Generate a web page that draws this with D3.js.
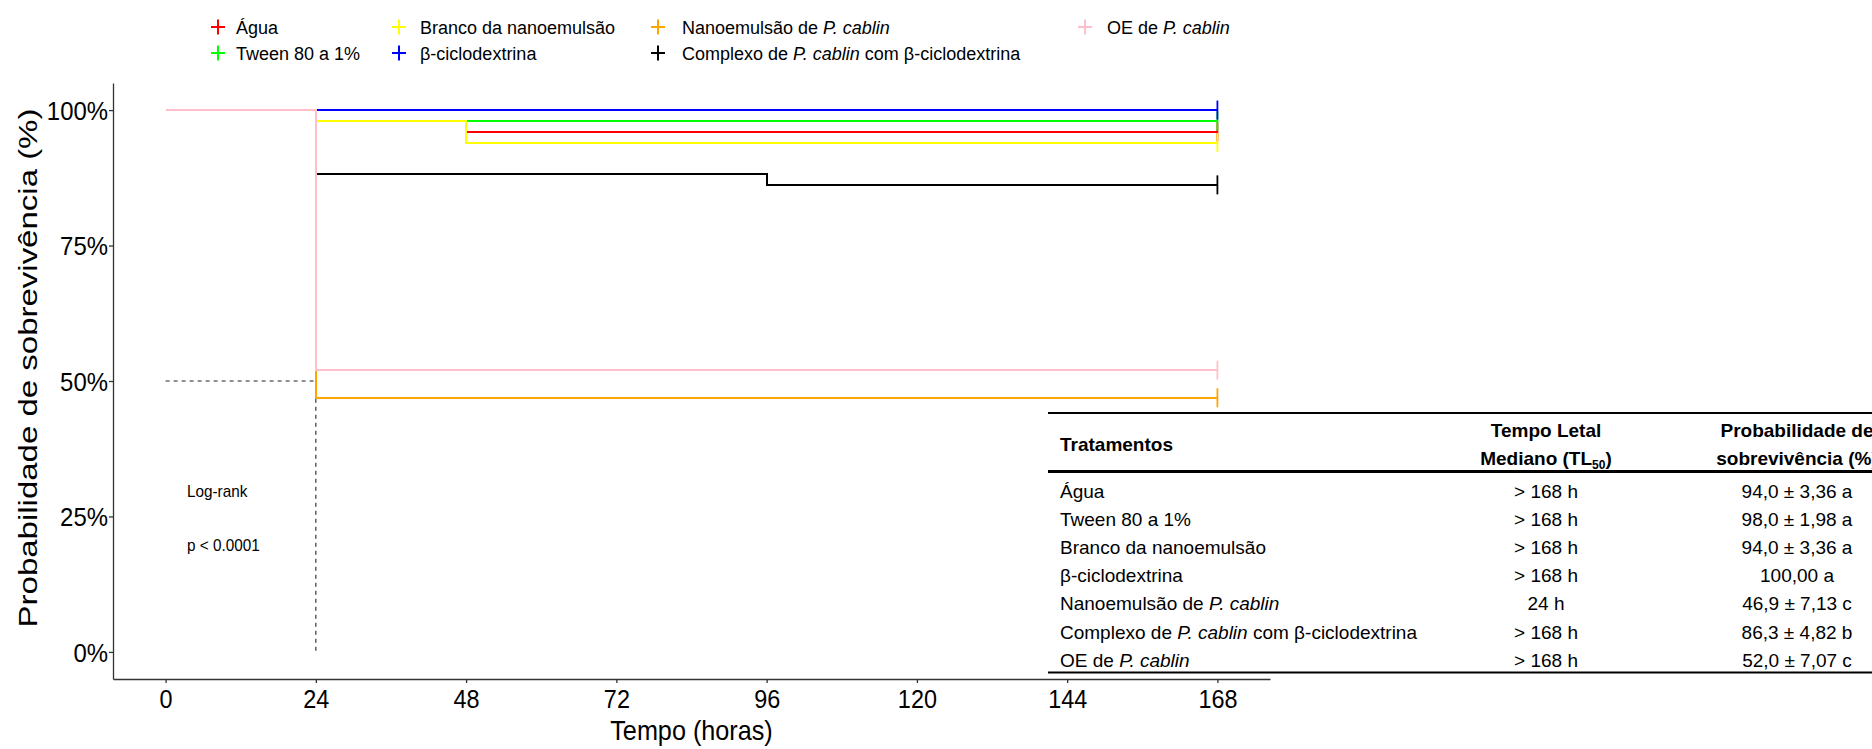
<!DOCTYPE html>
<html><head><meta charset="utf-8">
<script src="https://cdn.jsdelivr.net/npm/d3@7"></script>
<style>
body{margin:0;background:#fff}
svg{display:block}
text{font-family:"Liberation Sans",Arial,sans-serif;fill:#000}
</style>
</head><body>
<svg id="c" width="1872" height="749"></svg>
<script>
// ---------- data ----------
const treatments = ["Água","Tween 80 a 1%","Branco da nanoemulsão","β-ciclodextrina","Nanoemulsão de P. cablin","Complexo de P. cablin com β-ciclodextrina","OE de P. cablin"];
const colors = ["#FF0000","#00FF00","#FFFF00","#0000FF","#FFA500","#000000","#FFC0CB"];
const stepTimes = [[0,24,48,168],[0,24,168],[0,24,48,168],[0,168],[0,24,168],[0,24,96,168],[0,24,168]];
const stepSurv  = [[1,0.98,0.96,0.96],[1,0.98,0.98],[1,0.98,0.94,0.94],[1,1],[1,0.469,0.469],[1,0.882,0.862,0.862],[1,0.52,0.52]];
const xTicks = [0,24,48,72,96,120,144,168];
const yTicks = [0,0.25,0.5,0.75,1];
const medianTime = 24;
const medianLevel = 0.5;
const tl50 = ["> 168 h","> 168 h","> 168 h","> 168 h","24 h","> 168 h","> 168 h"];
const survText = ["94,0 ± 3,36 a","98,0 ± 1,98 a","94,0 ± 3,36 a","100,00 a","46,9 ± 7,13 c","86,3 ± 4,82 b","52,0 ± 7,07 c"];
const logRankLines = ["Log-rank","p < 0.0001"];

// ---------- layout ----------
const svg = d3.select("#c");
const x = d3.scaleLinear().domain([-8.4,176.4]).range([113,1270]);
const y = d3.scaleLinear().domain([-0.05,1.05]).range([679,83]);

function condense(sel, f){
  sel.each(function(){
    const l = this.getComputedTextLength();
    d3.select(this).attr("textLength", l*f).attr("lengthAdjust","spacingAndGlyphs");
  });
}
function richName(textSel, name){
  const parts = name.split("P. cablin");
  parts.forEach((p,i)=>{
    if(p) textSel.append("tspan").text(p);
    if(i<parts.length-1) textSel.append("tspan").attr("font-style","italic").text("P. cablin");
  });
}

// axes
const xAxis = svg.append("g").attr("transform","translate(0,679)")
  .call(d3.axisBottom(x).tickValues(xTicks).tickSize(4).tickSizeOuter(0).tickFormat(d3.format("d")));
xAxis.select(".domain").attr("stroke","#333").attr("stroke-width",1.3);
xAxis.selectAll(".tick line").attr("stroke","#333").attr("stroke-width",1.3);
xAxis.selectAll(".tick text").attr("dy",null).attr("y",29).attr("font-size",26).attr("font-family",'"Liberation Sans",Arial,sans-serif').attr("fill","#000");
condense(xAxis.selectAll(".tick text"),0.9);

const yAxis = svg.append("g").attr("transform","translate(113,0)")
  .call(d3.axisLeft(y).tickValues(yTicks).tickSize(4).tickSizeOuter(0).tickFormat(d3.format(".0%")));
yAxis.select(".domain").attr("stroke","#333").attr("stroke-width",1.3);
yAxis.selectAll(".tick line").attr("stroke","#333").attr("stroke-width",1.3);
yAxis.selectAll(".tick text").attr("dy",null).attr("x",-5).attr("y",9.3).attr("font-size",26).attr("font-family",'"Liberation Sans",Arial,sans-serif').attr("fill","#000");
condense(yAxis.selectAll(".tick text"),0.92);

// axis titles
const xt = svg.append("text").attr("x",(x.range()[0]+x.range()[1])/2).attr("y",740)
  .attr("text-anchor","middle").attr("font-size",28).text("Tempo (horas)");
condense(xt,0.9);
svg.append("text").attr("transform","translate(36.7,368) rotate(-90) scale(1,0.78)")
  .attr("text-anchor","middle").attr("font-size",33).text("Probabilidade de sobrevivência (%)");

// median dashed lines
svg.append("path")
  .attr("d",`M${x(0)},${y(medianLevel)}H${x(medianTime)}V${y(0)}`)
  .attr("fill","none").attr("stroke","#222").attr("stroke-width",1.1).attr("stroke-dasharray","4,4");

// curves
const line = d3.line().curve(d3.curveStepAfter).x(d=>x(d[0])).y(d=>y(d[1]));
treatments.forEach((t,i)=>{
  const pts = stepTimes[i].map((tt,j)=>[tt,stepSurv[i][j]]);
  svg.append("path").attr("d",line(pts)).attr("fill","none")
    .attr("stroke",colors[i]).attr("stroke-width",2.2).attr("shape-rendering","crispEdges");
});
treatments.forEach((t,i)=>{
  const n = stepTimes[i].length-1;
  const cx = x(stepTimes[i][n]), cy = y(stepSurv[i][n]);
  svg.append("line").attr("x1",cx).attr("x2",cx).attr("y1",cy-9.5).attr("y2",cy+9.5)
    .attr("stroke",colors[i]).attr("stroke-width",1.8);
});

// log-rank annotation
const lr = svg.append("g");
logRankLines.forEach((s,i)=>{
  const tx = lr.append("text").attr("x",187).attr("y",[497,551][i]).attr("font-size",17).text(s);
  condense(tx,0.9);
});

// legend
const legMarkX = [218,399,658,1085];
const legTextX = [236,420,682,1107];
const legRowY = [34,60];
treatments.forEach((t,i)=>{
  const c = Math.floor(i/2), r = i%2;
  const mx = legMarkX[c], my = legRowY[r]-7;
  svg.append("path").attr("d",`M${mx-7},${my}H${mx+7}M${mx},${my-7.5}V${my+7.5}`)
    .attr("stroke",colors[i]).attr("stroke-width",2).attr("fill","none");
  const tx = svg.append("text").attr("x",legTextX[c]).attr("y",legRowY[r]).attr("font-size",18);
  richName(tx,t);
});

// table
const tb = svg.append("g");
const tL = 1048, tR = 1872, c1 = 1060, c2 = 1546, c3 = 1797;
tb.append("line").attr("x1",tL).attr("x2",tR).attr("y1",413).attr("y2",413).attr("stroke","#000").attr("stroke-width",2);
tb.append("line").attr("x1",tL).attr("x2",tR).attr("y1",471.5).attr("y2",471.5).attr("stroke","#000").attr("stroke-width",3);
tb.append("line").attr("x1",tL).attr("x2",tR).attr("y1",672.5).attr("y2",672.5).attr("stroke","#000").attr("stroke-width",2);
tb.append("text").attr("x",c1).attr("y",451).attr("font-size",19).attr("font-weight","bold").text("Tratamentos");
tb.append("text").attr("x",c2).attr("y",437).attr("text-anchor","middle").attr("font-size",19).attr("font-weight","bold").text("Tempo Letal");
const med = tb.append("text").attr("x",c2).attr("y",465).attr("text-anchor","middle").attr("font-size",19).attr("font-weight","bold");
med.append("tspan").text("Mediano (TL");
med.append("tspan").attr("font-size",12).attr("dy",4).text("50");
med.append("tspan").attr("dy",-4).text(")");
tb.append("text").attr("x",c3).attr("y",437).attr("text-anchor","middle").attr("font-size",19).attr("font-weight","bold").text("Probabilidade de");
tb.append("text").attr("x",c3).attr("y",465).attr("text-anchor","middle").attr("font-size",19).attr("font-weight","bold").text("sobrevivência (%)");
treatments.forEach((t,i)=>{
  const by = 498 + i*28.1;
  const tx = tb.append("text").attr("x",c1).attr("y",by).attr("font-size",19);
  richName(tx,t);
  tb.append("text").attr("x",c2).attr("y",by).attr("text-anchor","middle").attr("font-size",19).text(tl50[i]);
  tb.append("text").attr("x",c3).attr("y",by).attr("text-anchor","middle").attr("font-size",19).text(survText[i]);
});
</script>
</body></html>
